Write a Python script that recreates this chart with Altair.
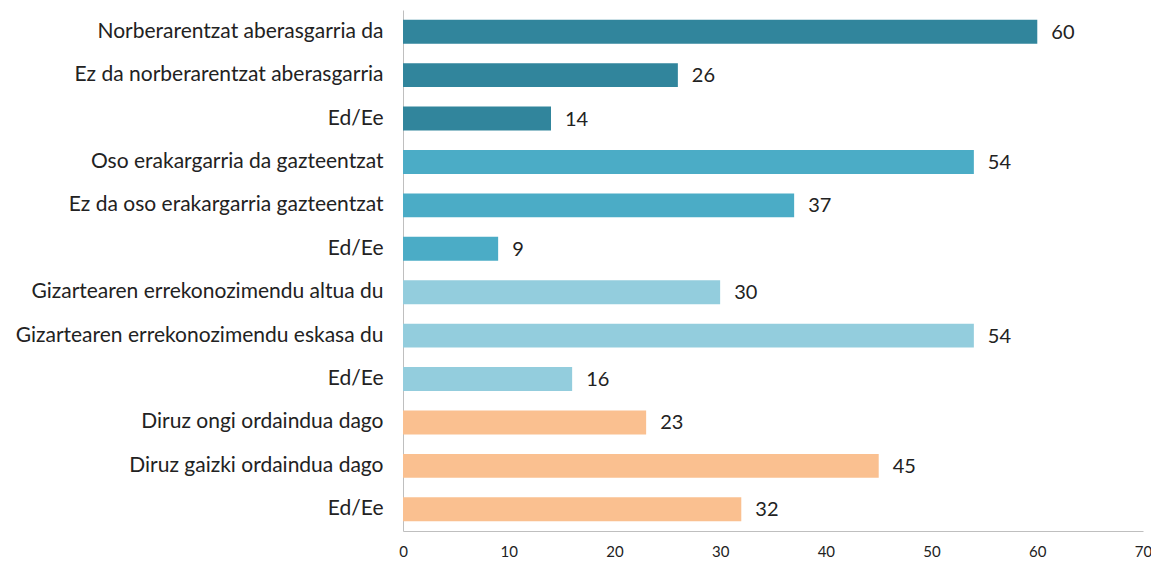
import altair as alt
import pandas as pd

categories = [
    "Norberarentzat aberasgarria da",
    "Ez da norberarentzat aberasgarria",
    "Ed/Ee ",
    "Oso erakargarria da gazteentzat",
    "Ez da oso erakargarria gazteentzat",
    "Ed/Ee  ",
    "Gizartearen errekonozimendu altua du",
    "Gizartearen errekonozimendu eskasa du",
    "Ed/Ee   ",
    "Diruz ongi ordaindua dago",
    "Diruz gaizki ordaindua dago",
    "Ed/Ee    ",
]
values = [60, 26, 14, 54, 37, 9, 30, 54, 16, 23, 45, 32]
groups = ["g1"] * 3 + ["g2"] * 3 + ["g3"] * 3 + ["g4"] * 3
group_colors = ["#31859C", "#4BACC6", "#93CDDD", "#FAC090"]

df = pd.DataFrame({"cat": categories, "value": values, "group": groups})

y_enc = alt.Y(
    "cat:N",
    sort=categories,
    title=None,
    scale=alt.Scale(paddingInner=0.45, paddingOuter=0.225),
    axis=alt.Axis(
        labelFont="Lato",
        labelFontSize=21,
        labelColor="#222222",
        labelPadding=20,
        ticks=False,
        domainColor="#BFBFBF",
        labelLimit=400,
        labelExpr="trim(datum.label)",
    ),
)
x_enc = alt.X(
    "value:Q",
    title=None,
    scale=alt.Scale(domain=[0, 70], nice=False),
    axis=alt.Axis(
        values=[0, 10, 20, 30, 40, 50, 60, 70],
        grid=False,
        ticks=False,
        labelFlush=False,
        labelFont="Lato",
        labelFontSize=15,
        labelColor="#222222",
        labelPadding=13,
        domainColor="#BFBFBF",
    ),
)

bars = alt.Chart(df).mark_bar().encode(
    y=y_enc,
    x=x_enc,
    color=alt.Color("group:N", scale=alt.Scale(domain=["g1", "g2", "g3", "g4"], range=group_colors), legend=None),
)
text = alt.Chart(df).mark_text(
    align="left", baseline="middle", dx=14, dy=1, font="Lato", fontSize=20, color="#222222"
).encode(y=alt.Y("cat:N", sort=categories), x="value:Q", text="value:Q")

chart = (bars + text).properties(
    width=740,
    height=521,
    autosize=alt.AutoSizeParams(type="none"),
    padding={"left": 395, "top": 2, "right": 8, "bottom": 30},
).configure_view(stroke=None)

chart.save("out.html", embed_options={"renderer": "svg", "actions": False})
